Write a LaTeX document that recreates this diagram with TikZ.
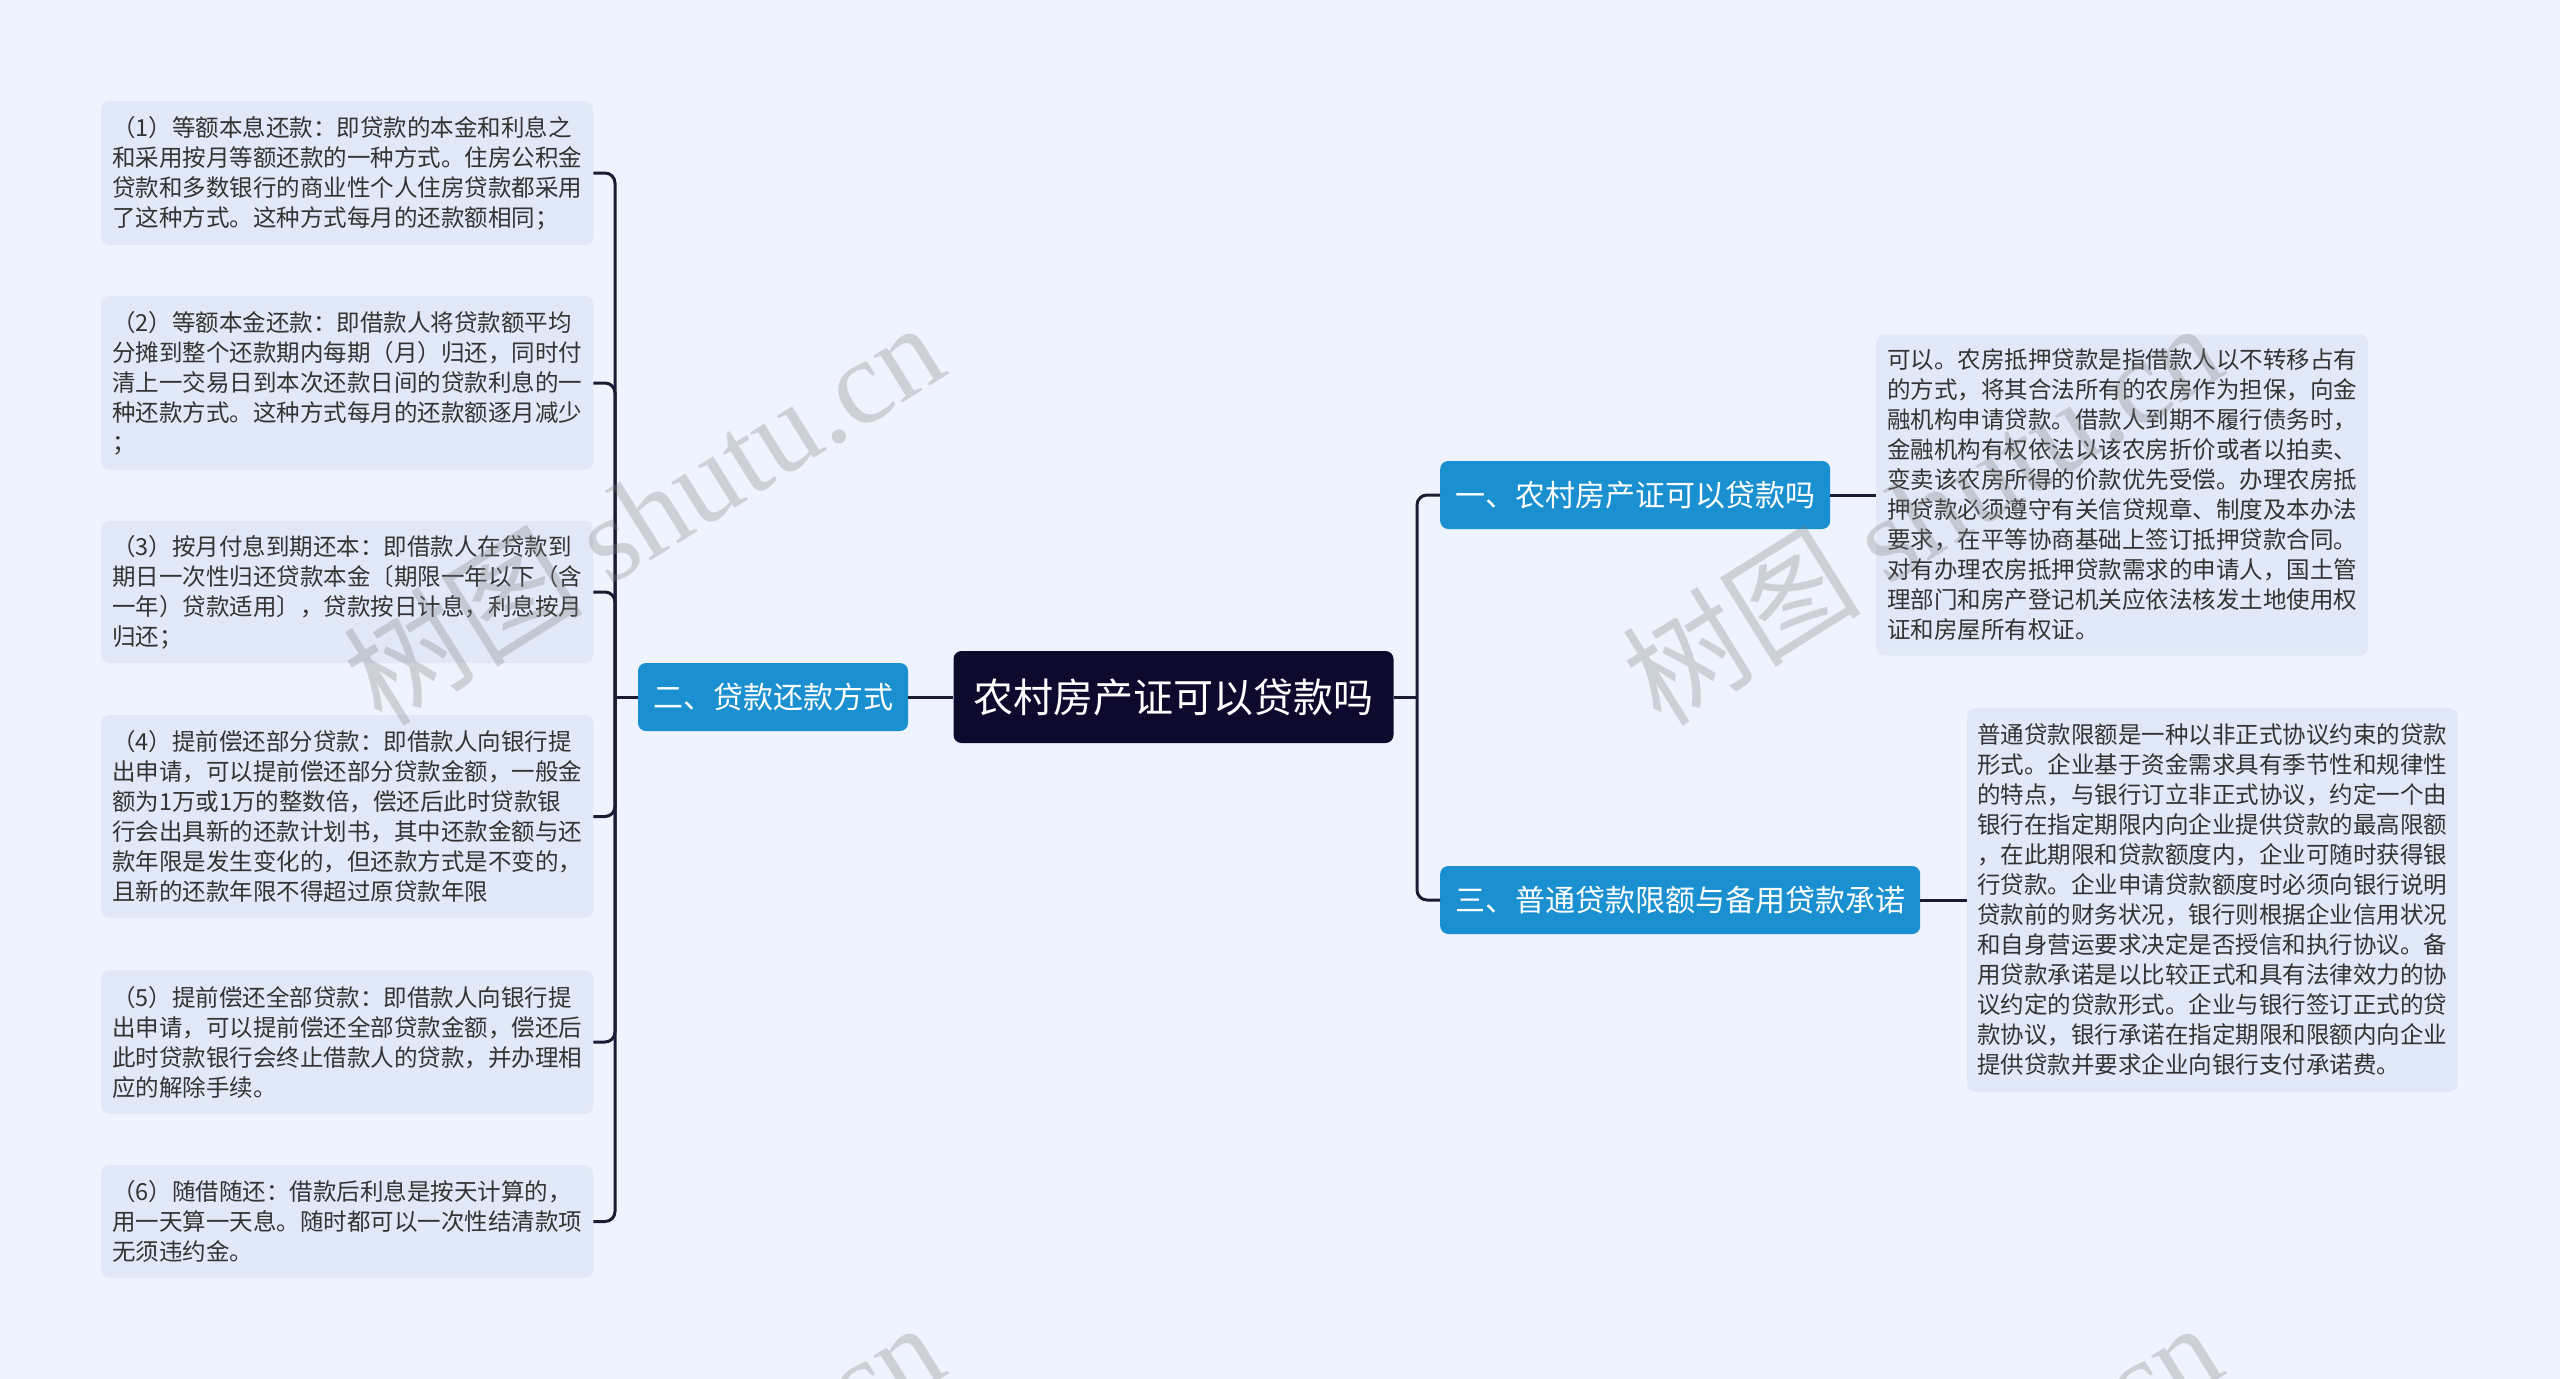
\documentclass[tikz,border=0pt]{standalone}
\usepackage{fontspec}
\setmainfont{Noto Sans CJK SC}
\newfontfamily\wmserif{Liberation Serif}
\setlength{\parindent}{0pt}
\definecolor{bgc}{HTML}{EEF3FD}
\definecolor{leafc}{HTML}{E1E9F8}
\definecolor{bluec}{HTML}{1A90D1}
\definecolor{darkc}{HTML}{0E0A2E}
\definecolor{linec}{HTML}{1B1B33}
\definecolor{txtc}{HTML}{333333}
\begin{document}
\begin{tikzpicture}[x=1pt,y=-1pt,
  leaf/.style={fill=leafc, rounded corners=8pt, text=txtc, align=left,
    text width=470pt, inner xsep=11pt, inner ysep=4pt, anchor=west,
    font=\fontsize{23.5}{30}\selectfont},
  branch/.style={fill=bluec, rounded corners=8pt, text=white,
    inner xsep=15pt, inner ysep=0pt, minimum height=68pt,
    font=\fontsize{30}{36}\selectfont},
  rootn/.style={fill=darkc, rounded corners=8pt, text=white,
    inner xsep=20pt, inner ysep=0pt, minimum height=92pt,
    font=\fontsize{40}{48}\selectfont},
  conn/.style={draw=linec, line width=3pt},
  wm/.style={text=gray, opacity=0.3, font=\fontsize{120}{130}\selectfont}
]
\useasboundingbox (0,0) rectangle (2560,1379);
\fill[bgc] (0,0) rectangle (2560,1379);

% nodes
\node[rootn] (c) at (1173.5,697) {农村房产证可以贷款吗};
\node[branch] (b2) at (773,697) {二、贷款还款方式};
\node[branch, anchor=west] (b1) at (1440,495) {一、农村房产证可以贷款吗};
\node[branch, anchor=west] (b3) at (1440,900) {三、普通贷款限额与备用贷款承诺};

\node[leaf, minimum height=144pt] (l1) at (101,173) {（1）等额本息还款：即贷款的本金和利息之\\和采用按月等额还款的一种方式。住房公积金\\贷款和多数银行的商业性个人住房贷款都采用\\了这种方式。这种方式每月的还款额相同；};
\node[leaf, minimum height=174pt] (l2) at (101,383) {（2）等额本金还款：即借款人将贷款额平均\\分摊到整个还款期内每期（月）归还，同时付\\清上一交易日到本次还款日间的贷款利息的一\\种还款方式。这种方式每月的还款额逐月减少\\；};
\node[leaf, minimum height=142pt] (l3) at (101,592) {（3）按月付息到期还本：即借款人在贷款到\\期日一次性归还贷款本金〔期限一年以下（含\\一年）贷款适用〕，贷款按日计息，利息按月\\归还；};
\node[leaf, minimum height=203pt] (l4) at (101,816.5) {（4）提前偿还部分贷款：即借款人向银行提\\出申请，可以提前偿还部分贷款金额，一般金\\额为1万或1万的整数倍，偿还后此时贷款银\\行会出具新的还款计划书，其中还款金额与还\\款年限是发生变化的，但还款方式是不变的，\\且新的还款年限不得超过原贷款年限};
\node[leaf, minimum height=144pt] (l5) at (101,1042) {（5）提前偿还全部贷款：即借款人向银行提\\出申请，可以提前偿还全部贷款金额，偿还后\\此时贷款银行会终止借款人的贷款，并办理相\\应的解除手续。};
\node[leaf, minimum height=113pt] (l6) at (101,1221.5) {（6）随借随还：借款后利息是按天计算的，\\用一天算一天息。随时都可以一次性结清款项\\无须违约金。};

\node[leaf, minimum height=321pt] (r1) at (1876,495) {可以。农房抵押贷款是指借款人以不转移占有\\的方式，将其合法所有的农房作为担保，向金\\融机构申请贷款。借款人到期不履行债务时，\\金融机构有权依法以该农房折价或者以拍卖、\\变卖该农房所得的价款优先受偿。办理农房抵\\押贷款必须遵守有关信贷规章、制度及本办法\\要求，在平等协商基础上签订抵押贷款合同。\\对有办理农房抵押贷款需求的申请人，国土管\\理部门和房产登记机关应依法核发土地使用权\\证和房屋所有权证。};
\node[leaf, minimum height=384pt, inner xsep=10pt] (r2) at (1967,900) {普通贷款限额是一种以非正式协议约束的贷款\\形式。企业基于资金需求具有季节性和规律性\\的特点，与银行订立非正式协议，约定一个由\\银行在指定期限内向企业提供贷款的最高限额\\，在此期限和贷款额度内，企业可随时获得银\\行贷款。企业申请贷款额度时必须向银行说明\\贷款前的财务状况，银行则根据企业信用状况\\和自身营运要求决定是否授信和执行协议。备\\用贷款承诺是以比较正式和具有法律效力的协\\议约定的贷款形式。企业与银行签订正式的贷\\款协议，银行承诺在指定期限和限额内向企业\\提供贷款并要求企业向银行支付承诺费。};

% connectors
\coordinate (lj) at (615,697);
\coordinate (rj) at (1417,697);
\draw[conn] (c.west) -- (b2.east);
\draw[conn] (b2.west) -- (lj);
\foreach \n in {l1,l2,l3,l4,l5,l6}{
  \draw[conn, rounded corners=10pt] (lj) |- (\n.east);
}
\draw[conn] (c.east) -- (rj);
\draw[conn, rounded corners=10pt] (rj) |- (b1.west);
\draw[conn, rounded corners=10pt] (rj) |- (b3.west);
\draw[conn] (b1.east) -- (r1.west);
\draw[conn] (b3.east) -- (r2.west);

% watermarks
\begin{scope}
\clip (0,0) rectangle (2560,1379);
\node[wm, rotate=32] (w1) at (643,512) {树图 {\wmserif shutu.cn}};
\node[wm, rotate=32] (w2) at (1921,512) {树图 {\wmserif shutu.cn}};
\node[wm, rotate=32] (w3) at (643,1512) {树图 {\wmserif shutu.cn}};
\node[wm, rotate=32] (w4) at (1921,1512) {树图 {\wmserif shutu.cn}};
\end{scope}
\end{tikzpicture}
\end{document}
